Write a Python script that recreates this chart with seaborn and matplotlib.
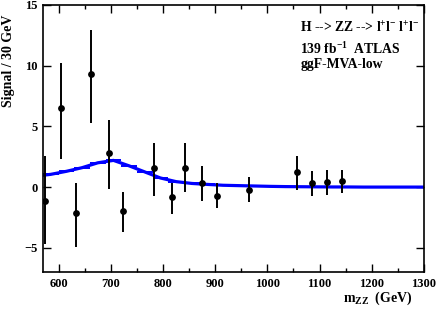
import matplotlib

matplotlib.use("Agg")
import matplotlib.pyplot as plt
import numpy as np
import pandas as pd
import seaborn as sns
from matplotlib.ticker import MultipleLocator

# measured points (signal after background subtraction)
mass = [574, 605, 634, 662, 697, 723, 782, 817, 842, 874, 903, 965, 1057, 1086, 1114, 1142]
signal = [-1.15, 6.55, -2.1, 9.35, 2.8, -1.95, 1.55, -0.8, 1.6, 0.3, -0.7, -0.2, 1.25, 0.3, 0.4, 0.5]
signal_high = [2.6, 10.25, 0.3, 12.9, 5.5, -0.4, 3.6, 0.35, 3.6, 1.7, 0.35, 0.85, 2.6, 1.3, 1.4, 1.4]
signal_low = [-4.7, 2.3, -4.9, 5.3, -0.15, -3.7, -0.7, -2.2, -0.4, -1.15, -1.7, -1.2, -0.25, -0.7, -0.65, -0.5]

# expected signal shape, 30 GeV bins
bin_centers = [555, 585, 615, 645, 675, 705, 735, 765, 795, 825, 855, 885, 915, 945, 975, 1005,
               1035, 1065, 1095, 1125, 1155, 1185, 1215, 1245, 1275, 1305]
bin_values = [0.9, 1.05, 1.3, 1.6, 2.0, 2.2, 1.75, 1.25, 0.75, 0.45, 0.3, 0.22, 0.15, 0.12, 0.09,
              0.06, 0.04, 0.03, 0.02, 0.01, 0.01, 0.0, 0.0, 0.0, 0.0, 0.0]
bin_width = 30

sns.set_theme(style="ticks")
plt.rcParams["font.family"] = ["Liberation Serif", "DejaVu Serif"]
plt.rcParams["font.weight"] = "bold"
plt.rcParams["mathtext.fontset"] = "custom"
plt.rcParams["mathtext.rm"] = "Liberation Serif:bold"
plt.rcParams["mathtext.it"] = "Liberation Serif:bold"
plt.rcParams["mathtext.bf"] = "Liberation Serif:bold"
for key in ["text.color", "axes.labelcolor", "xtick.color", "ytick.color", "axes.edgecolor"]:
    plt.rcParams[key] = "black"

fig = plt.figure(figsize=(4.36, 3.12), dpi=100)
ax = fig.add_axes([0.0986, 0.128, 0.8738, 0.856])

shape = pd.DataFrame({"x": bin_centers, "y": bin_values})
sns.lineplot(data=shape, x="x", y="y", color="#0000ff", linewidth=2.3, ax=ax)
ax.hlines(bin_values, np.array(bin_centers) - bin_width / 2, np.array(bin_centers) + bin_width / 2,
          color="#0000ff", linewidth=1.4)

points = pd.DataFrame({"mass": mass, "signal": signal})
yerr = np.array([np.array(signal) - np.array(signal_low), np.array(signal_high) - np.array(signal)])
ax.errorbar(mass, signal, yerr=yerr, fmt="none", ecolor="black", elinewidth=1.4, capsize=0)
sns.scatterplot(data=points, x="mass", y="signal", color="black", s=24, edgecolor="black",
                linewidth=0, zorder=5, ax=ax)

ax.set_xlim(570, 1300)
ax.set_ylim(-7, 15)
ax.xaxis.set_major_locator(MultipleLocator(100))
ax.xaxis.set_minor_locator(MultipleLocator(50))
ax.yaxis.set_major_locator(MultipleLocator(5))
ax.tick_params(which="both", direction="in", top=True, right=True, labelsize=9, width=1.0)
ax.tick_params(which="major", length=6, pad=4)
ax.tick_params(which="minor", length=3)
for lab in ax.get_xticklabels() + ax.get_yticklabels():
    lab.set_fontweight("bold")
for spine in ax.spines.values():
    spine.set_linewidth(1.2)
ax.set_xlabel("")
ax.set_ylabel("")

fig.text(0.02, 0.805, "Signal / 30 GeV", rotation=90, ha="center", va="center",
         fontsize=10, fontweight="bold")
fig.text(0.945, 0.045, r"m$_{\mathrm{ZZ}}$  (GeV)", ha="right", va="center",
         fontsize=10, fontweight="bold")

ax.text(0.675, 0.912, r"H --> ZZ --> l$^{+}$l$^{-}$ l$^{+}$l$^{-}$", transform=ax.transAxes,
        fontsize=9.8, fontweight="bold", va="center")
ax.text(0.675, 0.835, r"139 fb$^{-1}$  ATLAS", transform=ax.transAxes,
        fontsize=9.8, fontweight="bold", va="center")
ax.text(0.675, 0.776, "ggF-MVA-low", transform=ax.transAxes,
        fontsize=9.8, fontweight="bold", va="center")

fig.savefig("out.png", dpi=100)
